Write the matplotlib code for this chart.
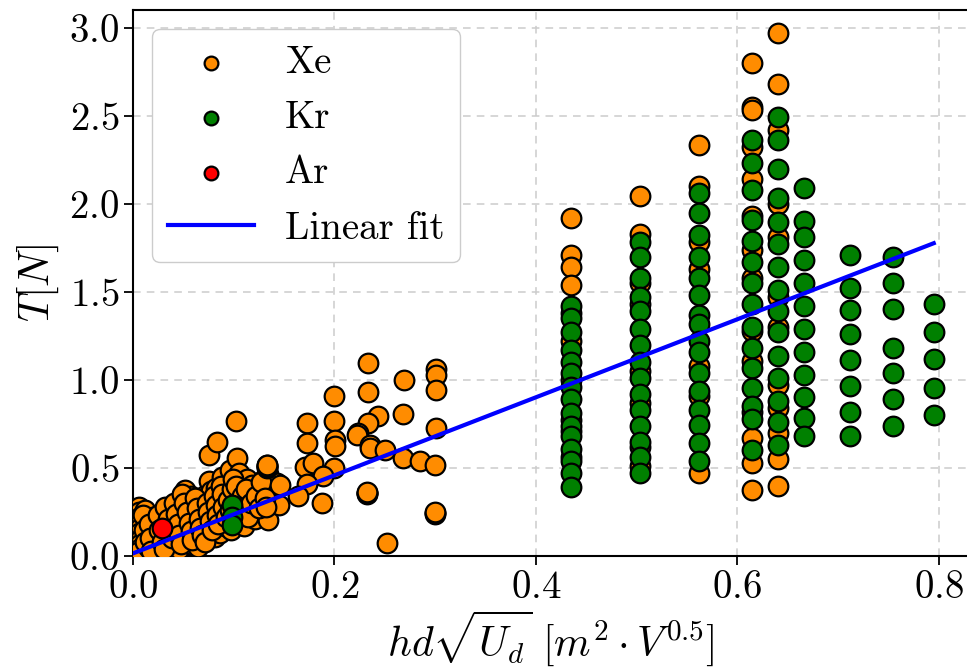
import numpy as np
import matplotlib
matplotlib.use('Agg')
import matplotlib.pyplot as plt

plt.rcParams['font.family'] = 'serif'
plt.rcParams['font.serif'] = ['cmr10']
plt.rcParams['mathtext.fontset'] = 'cm'
plt.rcParams['axes.unicode_minus'] = False
plt.rcParams['axes.formatter.use_mathtext'] = True

# Xe measurements: dense low-power cluster
xe_cluster = [
    (0.006, 0.28), (0.006, 0.25), (0.007, 0.22), (0.006, 0.19), (0.007, 0.16), (0.006, 0.13),
    (0.008, 0.10), (0.007, 0.07), (0.006, 0.04), (0.005, 0.02), (0.012, 0.26), (0.013, 0.20),
    (0.014, 0.12), (0.015, 0.05), (0.020, 0.22), (0.022, 0.17), (0.024, 0.11), (0.020, 0.06),
    (0.026, 0.03), (0.028, 0.20), (0.030, 0.25), (0.033, 0.224), (0.034, 0.18), (0.036, 0.12),
    (0.038, 0.07), (0.040, 0.262), (0.040, 0.21), (0.042, 0.15), (0.044, 0.09), (0.046, 0.04),
    (0.047, 0.319), (0.050, 0.27), (0.050, 0.22), (0.052, 0.376), (0.053, 0.17), (0.055, 0.12),
    (0.057, 0.07), (0.058, 0.338), (0.060, 0.243), (0.060, 0.29), (0.061, 0.20), (0.062, 0.15),
    (0.063, 0.10), (0.065, 0.05), (0.066, 0.30), (0.068, 0.25), (0.070, 0.34), (0.070, 0.19),
    (0.072, 0.14), (0.073, 0.10), (0.075, 0.423), (0.075, 0.575), (0.077, 0.37), (0.078, 0.28),
    (0.079, 0.22), (0.080, 0.16), (0.081, 0.11), (0.082, 0.387), (0.083, 0.645), (0.084, 0.33),
    (0.085, 0.26), (0.085, 0.20), (0.086, 0.13), (0.088, 0.45), (0.090, 0.30), (0.090, 0.24),
    (0.091, 0.17), (0.093, 0.36), (0.095, 0.42), (0.096, 0.49), (0.097, 0.15), (0.100, 0.33),
    (0.100, 0.26), (0.101, 0.20), (0.102, 0.765), (0.103, 0.556), (0.104, 0.357), (0.105, 0.47),
    (0.106, 0.394), (0.108, 0.29), (0.109, 0.215), (0.110, 0.17), (0.113, 0.44), (0.115, 0.33),
    (0.116, 0.25), (0.118, 0.404), (0.119, 0.357), (0.120, 0.29), (0.121, 0.21), (0.124, 0.38),
    (0.126, 0.31), (0.128, 0.25), (0.130, 0.44), (0.133, 0.376), (0.134, 0.467), (0.134, 0.205),
    (0.136, 0.432), (0.1426, 0.414), (0.145, 0.29),
    (0.010, 0.23), (0.011, 0.15), (0.012, 0.08), (0.016, 0.18), (0.017, 0.10), (0.018, 0.03),
    (0.025, 0.23), (0.026, 0.15), (0.029, 0.08), (0.031, 0.04), (0.032, 0.28), (0.035, 0.21),
    (0.037, 0.15), (0.039, 0.10), (0.041, 0.30), (0.043, 0.24), (0.045, 0.18), (0.046, 0.12),
    (0.048, 0.07), (0.049, 0.35), (0.051, 0.30), (0.054, 0.25), (0.056, 0.19), (0.058, 0.14),
    (0.059, 0.09), (0.062, 0.33), (0.064, 0.27), (0.066, 0.21), (0.067, 0.16), (0.069, 0.12),
    (0.071, 0.08), (0.073, 0.30), (0.074, 0.25), (0.076, 0.20), (0.078, 0.15), (0.080, 0.34),
    (0.082, 0.29), (0.083, 0.23), (0.084, 0.18), (0.087, 0.40), (0.088, 0.35), (0.089, 0.28),
    (0.092, 0.22), (0.094, 0.32), (0.096, 0.26), (0.098, 0.38), (0.099, 0.44), (0.102, 0.40),
    (0.104, 0.30), (0.106, 0.24), (0.108, 0.34), (0.111, 0.28), (0.112, 0.38), (0.114, 0.22),
    (0.117, 0.30), (0.122, 0.34), (0.125, 0.27), (0.127, 0.42), (0.131, 0.33), (0.132, 0.28),
    (0.1333, 0.500), (0.1333, 0.505), (0.1333, 0.510), (0.1333, 0.515), (0.1333, 0.518),
]

# Xe measurements: intermediate range
xe_mid = [
    (0.2336, 1.097), (0.301, 1.063), (0.301, 1.03), (0.301, 0.945), (0.269, 0.998),
    (0.1995, 0.907), (0.2336, 0.93), (0.173, 0.755), (0.1995, 0.765), (0.2435, 0.797),
    (0.268, 0.808), (0.2336, 0.755), (0.2236, 0.698), (0.222, 0.689), (0.173, 0.641),
    (0.2005, 0.66), (0.2005, 0.626), (0.235, 0.632), (0.235, 0.613), (0.250, 0.603),
    (0.3007, 0.727), (0.1707, 0.508), (0.179, 0.528), (0.1995, 0.499), (0.189, 0.455),
    (0.173, 0.41), (0.164, 0.341), (0.188, 0.30), (0.268, 0.556), (0.285, 0.542),
    (0.2997, 0.518), (0.2518, 0.072), (0.146, 0.404),
    (0.2326, 0.350), (0.2326, 0.355), (0.2326, 0.360), (0.2326, 0.365),
    (0.2997, 0.240), (0.2997, 0.246), (0.2997, 0.252),
]

# Xe measurements: high-power columns
xe_cols = {
    0.435: [1.92, 1.71, 1.64, 1.54, 1.38, 1.22, 1.00, 0.77, 0.71, 0.56],
    0.503: [2.045, 1.83, 1.55, 1.43, 1.05, 0.87, 0.62, 0.51],
    0.562: [2.335, 2.10, 1.78, 1.63, 1.08, 0.91, 0.47],
    0.615: [2.80, 2.55, 2.53, 2.32, 2.14, 1.93, 1.74, 1.58, 1.28, 1.105, 0.82, 0.67, 0.53, 0.375],
    0.640: [2.97, 2.68, 2.42, 2.00, 1.81, 1.47, 1.30, 0.97, 0.84, 0.70, 0.55, 0.40],
}

# Kr measurements
kr_cols = {
    0.098: [0.29, 0.224, 0.176],
    0.435: [1.42, 1.35, 1.27, 1.17, 1.10, 1.04, 0.96, 0.89, 0.81, 0.74, 0.68, 0.61, 0.54, 0.47, 0.39],
    0.503: [1.78, 1.70, 1.58, 1.47, 1.39, 1.29, 1.20, 1.10, 1.01, 0.92, 0.83, 0.74, 0.65, 0.56, 0.47],
    0.562: [2.06, 1.95, 1.82, 1.70, 1.58, 1.48, 1.37, 1.32, 1.22, 1.16, 1.04, 0.935, 0.83, 0.745, 0.64, 0.54],
    0.615: [2.36, 2.23, 2.08, 1.91, 1.79, 1.67, 1.55, 1.43, 1.30, 1.18, 1.07, 0.955, 0.85, 0.78, 0.60],
    0.640: [2.49, 2.36, 2.20, 2.03, 1.895, 1.77, 1.64, 1.51, 1.39, 1.27, 1.135, 1.01, 0.88, 0.76, 0.63],
    0.666: [2.09, 1.90, 1.81, 1.68, 1.55, 1.42, 1.29, 1.16, 1.025, 0.90, 0.785, 0.68],
    0.712: [1.71, 1.52, 1.395, 1.26, 1.115, 0.965, 0.815, 0.68],
    0.755: [1.70, 1.55, 1.40, 1.18, 1.04, 0.89, 0.74],
    0.795: [1.43, 1.27, 1.12, 0.955, 0.80],
}

# Ar measurements
ar_x = [0.0285]
ar_y = [0.158]

# linear fit T = a * x + b
fit_a = 2.215
fit_b = 0.015

xe_x = [p[0] for p in xe_cluster + xe_mid] + [x for x, ys in xe_cols.items() for _ in ys]
xe_y = [p[1] for p in xe_cluster + xe_mid] + [y for ys in xe_cols.values() for y in ys]
kr_x = [x for x, ys in kr_cols.items() for _ in ys]
kr_y = [y for ys in kr_cols.values() for y in ys]

fig = plt.figure(figsize=(9.67, 6.67), dpi=100)
ax = fig.add_axes([133 / 967, 111 / 667, 836 / 967, 546 / 667])

marker_kw = dict(s=200, edgecolors='black', linewidths=1.6, zorder=3)
ax.scatter(xe_x, xe_y, c='darkorange', label='Xe', **marker_kw)
ax.scatter(kr_x, kr_y, c='green', label='Kr', **marker_kw)
ax.scatter(ar_x, ar_y, c='red', label='Ar', **marker_kw)

x_max = max(xe_x + kr_x)
xf = np.array([0.0, x_max])
ax.plot(xf, fit_a * xf + fit_b, color='blue', lw=3, label='Linear fit', zorder=4)

ax.set_xlim(0, 0.83)
ax.set_ylim(0, 3.1)
ax.set_xticks([0.0, 0.2, 0.4, 0.6, 0.8])
ax.set_yticks(np.arange(0, 3.01, 0.5))
ax.grid(True, linestyle='--', color='#cccccc', linewidth=1.1, dashes=(5, 4))
ax.set_axisbelow(True)
ax.tick_params(labelsize=28, length=6.5, width=1.3)
for sp in ax.spines.values():
    sp.set_linewidth(1.5)

ax.set_xlabel(r'$hd\sqrt{U_d}\ [m^2\cdot V^{0.5}]$', fontsize=30, labelpad=2)
ax.set_ylabel(r'$T[N]$', fontsize=30, labelpad=6)

ax.legend(loc='upper left', fontsize=28, markerscale=0.7, handlelength=2.2,
          borderaxespad=0.5, labelspacing=0.5, handletextpad=0.8, framealpha=1.0,
          edgecolor='#cccccc', borderpad=0.4)

fig.savefig('out.png', dpi=100)
